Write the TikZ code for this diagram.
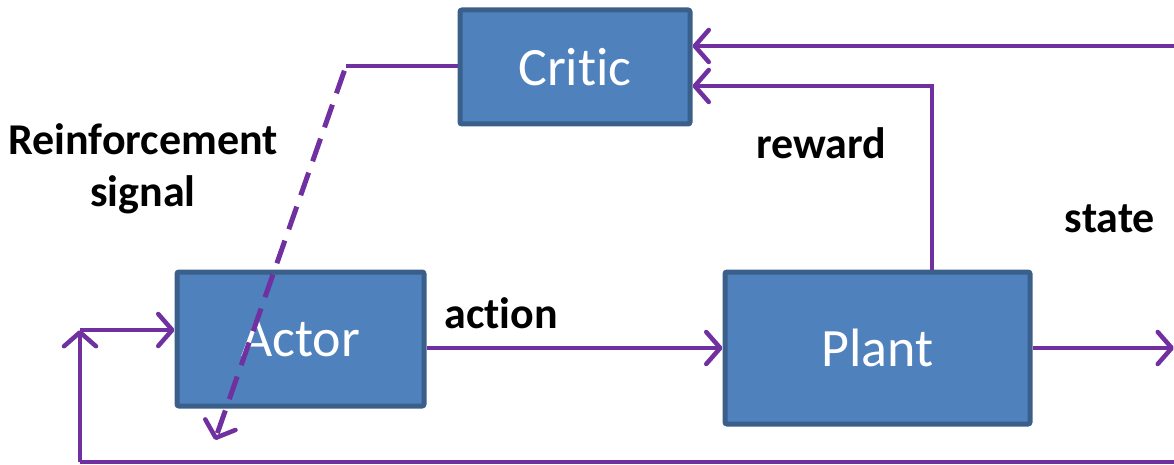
\documentclass[tikz,border=0pt]{standalone}
\usepackage{fontspec}
\setmainfont[Ligatures=NoCommon]{Carlito}
\usetikzlibrary{arrows.meta,calc}
\definecolor{boxfill}{HTML}{4F81BD}
\definecolor{boxline}{HTML}{3A5F8B}
\definecolor{wire}{HTML}{7030A0}
\tikzset{
  block/.style={draw=boxline, fill=boxfill, line width=5pt, rounded corners=2pt,
    text=white, font=\fontsize{54}{60}\selectfont, inner sep=0pt},
  link/.style={draw=wire, line width=4.5pt},
  tip/.style={-{Straight Barb[length=14pt,width=32pt,line width=4.5pt,round]}},
  lbl/.style={font=\bfseries\fontsize{44}{52}\selectfont, align=center}
}
\begin{document}
\begin{tikzpicture}[x=1pt,y=-1pt]
\useasboundingbox (0,0) rectangle (1174,465);
% blocks
\node[block, minimum width=230pt, minimum height=114pt] (critic) at (575,67) {Critic};
\node[block, minimum width=247pt, minimum height=134pt] (actor) at (300.5,339) {Actor};
\node[block, minimum width=305pt, minimum height=152pt] (plant) at (877.5,348) {Plant};
% loose ends
\coordinate (stIn) at (1174,46);
\coordinate (stOut) at (1174,348);
\coordinate (fbR) at (1174,462);
\coordinate (fbL) at (80,462);
\coordinate (fbT) at (80,330);
\coordinate (rwT) at (932,86);
\coordinate (rsA) at (346,66);
\coordinate (rsB) at (215,440);
% labels
\node[lbl] (lrs) at (143,169) {Reinforcement\\signal};
\node[lbl] (lrw) at (821,143) {reward};
\node[lbl] (lst) at (1110,219) {state};
\node[lbl] (lac) at (501,313) {action};
% connectors
\draw[link,tip] (stIn) -- (critic.east |- stIn);
\draw[link,tip] (plant.north -| rwT) |- (critic.east |- rwT);
\draw[link,tip] (plant.east |- stOut) -- (stOut);
\draw[link,tip] (actor.east |- stOut) -- (plant.west |- stOut);
\draw[link] (fbR) -- (fbL);
\draw[link,tip] (fbL) -- (fbT);
\draw[link,tip] (fbT) -- (actor.west |- fbT);
\draw[link] (critic.west |- rsA) -- (rsA);
\draw[link,line width=5pt,dash pattern=on 24pt off 12pt,tip] ($(rsA)!5pt!(rsB)$) -- (rsB);
\end{tikzpicture}
\end{document}
